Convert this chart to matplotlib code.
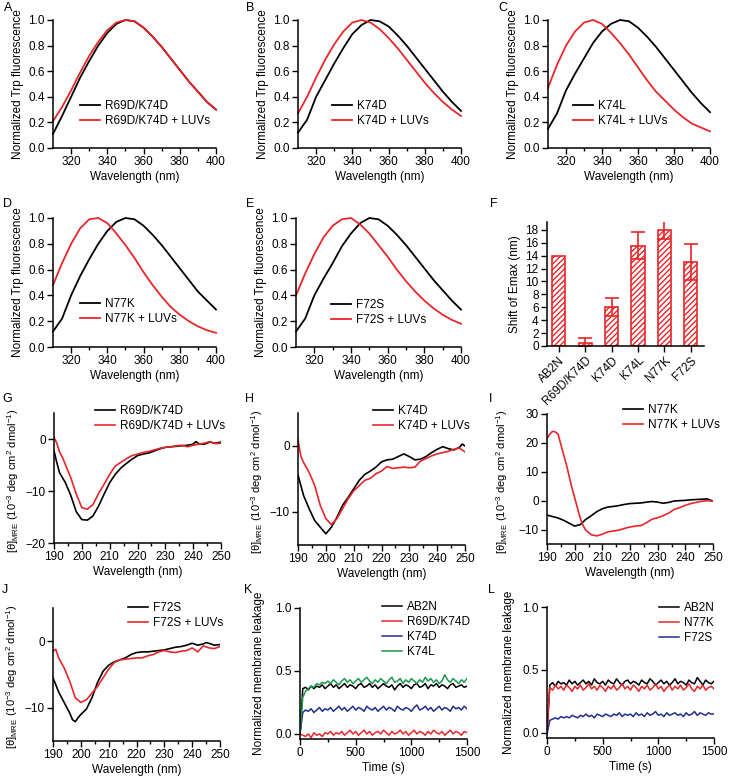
import matplotlib
matplotlib.use("Agg")
import matplotlib.pyplot as plt

plt.rcParams['font.family'] = ['Liberation Sans', 'DejaVu Sans']
plt.rcParams['mathtext.fontset'] = 'custom'
plt.rcParams['mathtext.rm'] = 'Liberation Sans'
plt.rcParams['mathtext.it'] = 'Liberation Sans:italic'
plt.rcParams['hatch.linewidth'] = 1.0

RED = '#e8262a'
BLUE = '#232c8f'
GREEN = '#1c9a4c'

# ---- Trp fluorescence spectra (A-E) ----
wl_fl = [310, 315, 320, 325, 330, 335, 340, 345, 350, 355, 360, 365, 370, 375, 380, 385, 390, 395, 400]

a_free = [0.11, 0.25, 0.40, 0.55, 0.68, 0.80, 0.90, 0.97, 1.00, 0.99, 0.94, 0.87, 0.79, 0.70, 0.61, 0.52, 0.44, 0.36, 0.30]
a_luv = [0.21, 0.32, 0.45, 0.59, 0.72, 0.83, 0.92, 0.98, 1.00, 0.99, 0.94, 0.87, 0.79, 0.70, 0.61, 0.52, 0.44, 0.36, 0.30]

b_free = [0.12, 0.22, 0.40, 0.53, 0.66, 0.78, 0.89, 0.96, 1.00, 0.99, 0.95, 0.88, 0.80, 0.71, 0.62, 0.53, 0.44, 0.36, 0.29]
b_luv = [0.27, 0.40, 0.55, 0.69, 0.81, 0.91, 0.98, 1.00, 0.98, 0.93, 0.86, 0.78, 0.69, 0.60, 0.51, 0.43, 0.36, 0.30, 0.25]

c_free = [0.15, 0.27, 0.45, 0.58, 0.70, 0.82, 0.91, 0.97, 1.00, 0.99, 0.94, 0.87, 0.79, 0.70, 0.61, 0.52, 0.43, 0.35, 0.28]
c_luv = [0.47, 0.65, 0.80, 0.91, 0.98, 1.00, 0.97, 0.90, 0.82, 0.73, 0.63, 0.53, 0.44, 0.37, 0.30, 0.24, 0.19, 0.16, 0.13]

d_free = [0.12, 0.22, 0.40, 0.55, 0.68, 0.80, 0.90, 0.97, 1.00, 0.99, 0.94, 0.87, 0.79, 0.70, 0.61, 0.52, 0.43, 0.36, 0.29]
d_luv = [0.48, 0.65, 0.80, 0.92, 0.99, 1.00, 0.96, 0.88, 0.79, 0.69, 0.58, 0.48, 0.39, 0.31, 0.25, 0.20, 0.16, 0.13, 0.11]

e_free = [0.12, 0.22, 0.40, 0.53, 0.65, 0.78, 0.88, 0.96, 1.00, 0.99, 0.94, 0.87, 0.79, 0.70, 0.61, 0.52, 0.44, 0.36, 0.29]
e_luv = [0.40, 0.57, 0.72, 0.85, 0.94, 0.99, 1.00, 0.95, 0.88, 0.79, 0.70, 0.60, 0.51, 0.43, 0.36, 0.30, 0.25, 0.21, 0.18]

# ---- Emax shift (F) ----
mutants = ['AB2N', 'R69D/K74D', 'K74D', 'K74L', 'N77K', 'F72S']
shift = [14.0, 0.5, 6.0, 15.5, 18.0, 13.0]
shift_err = [0.0, 0.7, 1.4, 2.1, 1.4, 2.8]

# ---- CD spectra (G-J) ----
g_wl_k = [190, 191, 192, 194, 196, 198, 200, 202, 204, 206, 208, 210, 212, 214, 216, 218, 220, 222, 224, 226, 228, 230, 232, 234, 236, 238, 240, 241, 242, 244, 246, 248, 250]
g_k = [-2.3, -4.5, -6.5, -8.3, -10.8, -14.0, -15.5, -15.6, -14.8, -12.9, -10.6, -8.4, -6.8, -5.6, -4.7, -3.9, -3.2, -2.9, -2.7, -2.3, -1.9, -1.6, -1.5, -1.4, -1.3, -1.2, -1.0, -0.5, -0.9, -1.0, -0.6, -0.8, -0.6]
g_wl_r = [190, 191, 192, 193, 194, 196, 198, 200, 202, 204, 206, 208, 210, 212, 214, 216, 218, 220, 222, 224, 226, 228, 230, 232, 234, 236, 238, 240, 242, 244, 246, 248, 250]
g_r = [0.3, -0.8, -2.5, -3.5, -4.8, -7.4, -10.6, -13.2, -13.5, -12.6, -10.5, -8.7, -6.8, -5.2, -4.5, -3.8, -3.2, -2.9, -2.6, -2.4, -2.1, -1.8, -1.6, -1.5, -1.3, -1.2, -1.5, -1.2, -1.0, -0.8, -0.5, -0.9, -0.8]

h_wl_k = [190, 192, 194, 196, 198, 200, 202, 204, 206, 208, 210, 212, 214, 216, 218, 220, 222, 224, 226, 228, 230, 232, 234, 236, 238, 240, 242, 244, 246, 248, 249, 250]
h_k = [-4.4, -7.5, -9.5, -11.3, -12.3, -13.3, -12.3, -10.8, -9.0, -7.8, -6.5, -5.2, -4.3, -3.8, -3.2, -2.4, -2.1, -2.0, -1.6, -1.2, -1.6, -2.1, -2.0, -1.6, -1.0, -0.5, -0.1, -0.4, -0.6, -0.2, 0.3, 0.0]
h_wl_r = [190, 191, 192, 194, 196, 198, 200, 202, 204, 206, 208, 210, 212, 214, 216, 218, 220, 222, 224, 226, 228, 230, 232, 234, 236, 238, 240, 242, 244, 246, 248, 250]
h_r = [1.0, -1.5, -2.5, -4.0, -6.0, -9.0, -11.0, -11.9, -11.0, -9.5, -8.0, -6.8, -6.0, -5.2, -4.9, -4.2, -3.8, -3.1, -3.4, -3.3, -3.2, -3.3, -3.2, -2.3, -1.9, -1.5, -1.2, -1.0, -0.8, -0.5, -0.3, -0.9]

i_wl_k = [190, 192, 194, 196, 198, 200, 202, 204, 206, 208, 210, 212, 214, 216, 218, 220, 222, 224, 226, 228, 230, 232, 234, 236, 238, 240, 242, 244, 246, 248, 250]
i_k = [-5.0, -5.5, -6.0, -6.8, -7.8, -8.8, -8.3, -6.5, -5.2, -3.8, -2.8, -2.2, -2.0, -1.7, -1.3, -1.0, -0.9, -0.8, -0.5, -0.3, -0.5, -0.9, -0.6, -0.1, 0.0, 0.1, 0.3, 0.4, 0.5, 0.6, -0.2]
i_wl_r = [190, 191, 192, 193, 194, 195, 196, 197, 198, 199, 200, 201, 202, 203, 204, 206, 208, 210, 212, 214, 216, 218, 220, 222, 224, 226, 228, 230, 232, 234, 236, 238, 240, 242, 244, 246, 248, 250]
i_r = [21.5, 23.0, 24.0, 23.8, 23.0, 19.5, 16.0, 12.5, 8.5, 4.5, 1.0, -2.5, -6.0, -8.5, -10.2, -11.8, -12.2, -11.6, -10.8, -10.5, -10.2, -9.6, -9.1, -8.8, -8.6, -7.6, -6.4, -5.9, -5.2, -4.3, -3.0, -2.4, -1.6, -1.0, -0.6, -0.2, 0.0, -0.2]

j_wl_k = [190, 192, 194, 196, 197, 198, 199, 200, 202, 204, 206, 208, 210, 212, 214, 216, 218, 220, 222, 224, 226, 228, 230, 232, 234, 236, 238, 240, 242, 244, 245, 246, 248, 250]
j_k = [-5.5, -7.6, -9.2, -10.8, -11.8, -12.1, -11.5, -11.0, -10.2, -8.5, -6.2, -4.5, -3.6, -3.1, -2.8, -2.5, -2.0, -1.7, -1.6, -1.6, -1.5, -1.4, -1.3, -1.1, -0.9, -0.8, -0.6, -0.3, -0.6, -0.4, -0.2, -0.3, -0.6, -0.5]
j_wl_r = [190, 191, 192, 194, 196, 198, 200, 202, 204, 206, 208, 210, 212, 214, 216, 218, 220, 222, 224, 226, 228, 230, 232, 234, 236, 238, 240, 242, 244, 246, 248, 250]
j_r = [-1.5, -1.2, -2.5, -4.0, -6.0, -8.5, -9.2, -8.8, -7.8, -6.8, -5.5, -4.2, -3.2, -2.8, -2.7, -2.6, -2.5, -2.5, -2.2, -2.0, -1.6, -1.4, -1.6, -1.7, -1.5, -1.4, -1.0, -1.6, -0.7, -1.0, -1.1, -0.8]

# ---- membrane leakage (K, L), read every 25 s ----
time_s = list(range(0, 1501, 25))

k_ab2n = [0.00, 0.36, 0.37, 0.35, 0.38, 0.36, 0.38, 0.37, 0.39, 0.36,
          0.38, 0.40, 0.37, 0.39, 0.36, 0.38, 0.40, 0.37, 0.39, 0.38,
          0.36, 0.39, 0.40, 0.37, 0.38, 0.40, 0.37, 0.39, 0.36, 0.38,
          0.40, 0.38, 0.37, 0.39, 0.35, 0.38, 0.40, 0.37, 0.39, 0.38,
          0.36, 0.39, 0.40, 0.37, 0.38, 0.40, 0.36, 0.39, 0.38, 0.40,
          0.37, 0.39, 0.38, 0.36, 0.39, 0.40, 0.37, 0.38, 0.39, 0.37,
          0.38]
k_r69d = [0.00, -0.01, -0.02, 0.00, -0.03, 0.01, -0.01, 0.00, -0.02, 0.01,
          0.00, 0.02, -0.01, 0.01, 0.00, 0.02, -0.01, 0.01, 0.03, 0.00,
          0.02, -0.01, 0.01, 0.03, 0.00, 0.02, -0.01, 0.01, 0.02, 0.00,
          0.03, 0.01, -0.01, 0.02, 0.00, 0.01, 0.03, 0.00, 0.02, -0.01,
          0.01, 0.03, 0.00, 0.02, 0.01, -0.01, 0.02, 0.00, 0.03, 0.01,
          0.00, 0.02, -0.01, 0.01, 0.03, 0.00, 0.02, 0.01, -0.01, 0.02,
          0.01]
k_k74d = [0.00, 0.17, 0.19, 0.18, 0.20, 0.17, 0.19, 0.21, 0.18, 0.20,
          0.19, 0.21, 0.18, 0.20, 0.22, 0.19, 0.21, 0.18, 0.20, 0.22,
          0.19, 0.21, 0.20, 0.18, 0.22, 0.20, 0.19, 0.21, 0.18, 0.20,
          0.22, 0.19, 0.21, 0.20, 0.18, 0.22, 0.20, 0.19, 0.21, 0.20,
          0.18, 0.21, 0.23, 0.19, 0.20, 0.22, 0.19, 0.21, 0.18, 0.20,
          0.22, 0.19, 0.21, 0.20, 0.18, 0.22, 0.20, 0.21, 0.19, 0.22,
          0.20]
k_k74l = [0.00, 0.29, 0.34, 0.36, 0.38, 0.37, 0.40, 0.39, 0.41, 0.40,
          0.42, 0.40, 0.43, 0.41, 0.39, 0.42, 0.44, 0.41, 0.43, 0.40,
          0.42, 0.44, 0.41, 0.43, 0.45, 0.42, 0.40, 0.43, 0.41, 0.44,
          0.42, 0.40, 0.43, 0.45, 0.41, 0.42, 0.44, 0.40, 0.43, 0.41,
          0.44, 0.42, 0.40, 0.43, 0.41, 0.45, 0.42, 0.44, 0.41, 0.43,
          0.40, 0.42, 0.47, 0.43, 0.41, 0.44, 0.42, 0.40, 0.43, 0.41,
          0.44]

l_ab2n = [0.00, 0.38, 0.40, 0.37, 0.41, 0.39, 0.40, 0.38, 0.42, 0.39,
          0.41, 0.38, 0.40, 0.42, 0.39, 0.41, 0.38, 0.43, 0.40, 0.39,
          0.41, 0.38, 0.42, 0.40, 0.39, 0.43, 0.40, 0.38, 0.41, 0.42,
          0.39, 0.41, 0.40, 0.38, 0.42, 0.40, 0.39, 0.43, 0.41, 0.38,
          0.40, 0.42, 0.39, 0.41, 0.38, 0.40, 0.43, 0.39, 0.41, 0.40,
          0.38, 0.42, 0.40, 0.39, 0.44, 0.41, 0.38, 0.42, 0.40, 0.39,
          0.41]
l_n77k = [0.00, 0.36, 0.34, 0.38, 0.35, 0.37, 0.34, 0.38, 0.36, 0.33,
          0.37, 0.35, 0.38, 0.34, 0.36, 0.39, 0.35, 0.37, 0.34, 0.38,
          0.36, 0.33, 0.37, 0.35, 0.38, 0.34, 0.36, 0.39, 0.35, 0.37,
          0.34, 0.38, 0.36, 0.33, 0.37, 0.35, 0.38, 0.34, 0.36, 0.39,
          0.35, 0.37, 0.33, 0.36, 0.38, 0.34, 0.37, 0.35, 0.38, 0.34,
          0.36, 0.39, 0.35, 0.33, 0.37, 0.35, 0.38, 0.34, 0.36, 0.37,
          0.35]
l_f72s = [-0.01, 0.10, 0.11, 0.12, 0.11, 0.13, 0.12, 0.13, 0.12, 0.14,
          0.13, 0.12, 0.14, 0.13, 0.15, 0.13, 0.14, 0.12, 0.15, 0.14,
          0.13, 0.15, 0.14, 0.13, 0.15, 0.14, 0.16, 0.13, 0.15, 0.14,
          0.15, 0.13, 0.16, 0.14, 0.15, 0.13, 0.16, 0.14, 0.15, 0.17,
          0.14, 0.15, 0.13, 0.16, 0.14, 0.15, 0.16, 0.14, 0.15, 0.13,
          0.16, 0.14, 0.15, 0.17, 0.14, 0.16, 0.15, 0.14, 0.16, 0.15,
          0.15]

W, H = 729, 776
FS = 8.5
fig = plt.figure(figsize=(W / 100, H / 100), dpi=100)


def place(l, r, t, b):
    ax = fig.add_axes([l / W, 1 - b / H, (r - l) / W, (b - t) / H])
    for s in ['top', 'right']:
        ax.spines[s].set_visible(False)
    for s in ['left', 'bottom']:
        ax.spines[s].set_linewidth(1.1)
    ax.tick_params(which='both', direction='out', width=1.0, labelsize=FS, pad=2)
    ax.tick_params(which='major', length=4)
    ax.tick_params(which='minor', length=2.5)
    return ax


def legend_at(ax, x, y):
    ax.legend(loc='upper left', bbox_to_anchor=(x / W, 1 - y / H),
              bbox_transform=fig.transFigure, frameon=False, borderpad=0,
              borderaxespad=0, handlelength=1.7, handletextpad=0.4,
              labelspacing=0.25, fontsize=FS)


def letter(x, y, s):
    fig.text(x / W, 1 - y / H, s, fontsize=9, ha='left', va='top')


def fluor(ax, free, luv, name):
    ax.plot(wl_fl, free, color='black', lw=1.3, label=name, clip_on=False)
    ax.plot(wl_fl, luv, color=RED, lw=1.3, label=name + ' + LUVs', clip_on=False)
    ax.set_xlim(310, 400)
    ax.set_ylim(0, 1.0)
    ax.set_xticks([320, 340, 360, 380, 400])
    ax.set_xticks([330, 350, 370, 390], minor=True)
    ax.set_yticks([0, 0.2, 0.4, 0.6, 0.8, 1.0])
    ax.set_yticklabels(['0.0', '0.2', '0.4', '0.6', '0.8', '1.0'])
    ax.set_xlabel('Wavelength (nm)', fontsize=FS, labelpad=2)
    ax.set_ylabel('Normalized Trp fluorescence', fontsize=FS, labelpad=3)


CD_LABEL = '[θ]$_{\\mathrm{MRE}}$ (10$^{-3}$ deg cm$^{2}$ dmol$^{-1}$)'


def cd(ax, wk, k, wr, r, name, ylim, yticks, labx):
    ax.plot(wk, k, color='black', lw=1.2, label=name)
    ax.plot(wr, r, color=RED, lw=1.2, label=name + ' + LUVs')
    ax.set_xlim(190, 250)
    ax.set_ylim(*ylim)
    ax.set_xticks(range(190, 251, 10))
    ax.set_xticks(range(195, 250, 10), minor=True)
    ax.set_yticks(yticks)
    ax.set_xlabel('Wavelength (nm)', fontsize=FS, labelpad=2)
    ax.set_ylabel(CD_LABEL, fontsize=8)
    ax.yaxis.set_label_coords(labx, 0.48)


def leak(ax, series, labx):
    for vals, col, name in series:
        ax.plot(time_s, vals, color=col, lw=1.1, label=name)
    ax.set_xlim(0, 1500)
    ax.set_ylim(-0.04, 1.0)
    ax.set_xticks([0, 500, 1000, 1500])
    ax.set_xticks([250, 750, 1250], minor=True)
    ax.set_yticks([0, 0.5, 1.0])
    ax.set_yticklabels(['0.0', '0.5', '1.0'])
    ax.set_xlabel('Time (s)', fontsize=FS, labelpad=2)
    ax.set_ylabel('Normalized membrane leakage', fontsize=FS)
    ax.yaxis.set_label_coords(labx, 0.5)


# row 1
axA = place(53, 216, 20, 148)
fluor(axA, a_free, a_luv, 'R69D/K74D')
legend_at(axA, 80, 100)
axB = place(298, 461, 20, 148)
fluor(axB, b_free, b_luv, 'K74D')
legend_at(axB, 332, 100)
axC = place(548, 710, 20, 148)
fluor(axC, c_free, c_luv, 'K74L')
legend_at(axC, 573, 100)

# row 2
axD = place(53, 216, 218, 347)
fluor(axD, d_free, d_luv, 'N77K')
legend_at(axD, 80, 298)
axE = place(296, 461, 218, 347)
fluor(axE, e_free, e_luv, 'F72S')
legend_at(axE, 331, 299)

axF = place(547, 704, 222, 346)
xpos = list(range(len(mutants)))
axF.bar(xpos, shift, width=0.5, color='white', edgecolor=RED, hatch='//////', linewidth=1.2)
axF.errorbar(xpos[1:], shift[1:], yerr=shift_err[1:], fmt='none', ecolor=RED,
             elinewidth=1.2, capsize=4.7, capthick=1.2)
axF.set_xlim(-0.45, 5.5)
axF.set_ylim(0, 19.2)
axF.set_yticks(range(0, 19, 2))
axF.set_xticks(xpos)
axF.set_xticklabels(mutants, rotation=45, ha='right', rotation_mode='anchor')
axF.set_ylabel('Shift of Emax (nm)', fontsize=FS, labelpad=3)

# row 3
axG = place(54, 221, 413, 543)
cd(axG, g_wl_k, g_k, g_wl_r, g_r, 'R69D/K74D', (-20, 5), [-20, -10, 0], -0.2)
legend_at(axG, 95, 405)
axH = place(298, 465, 413, 545)
cd(axH, h_wl_k, h_k, h_wl_r, h_r, 'K74D', (-15, 5), [-10, 0], -0.2)
legend_at(axH, 373, 405)
axI = place(547, 713, 414, 544)
cd(axI, i_wl_k, i_k, i_wl_r, i_r, 'N77K', (-15, 30), [-10, 0, 10, 20, 30], -0.22)
legend_at(axI, 623, 404)

# row 4
axJ = place(53, 220, 608, 741)
cd(axJ, j_wl_k, j_k, j_wl_r, j_r, 'F72S', (-15, 5), [-10, 0], -0.2)
legend_at(axJ, 128, 602)
axK = place(300, 467, 608, 739)
leak(axK, [(k_ab2n, 'black', 'AB2N'), (k_r69d, RED, 'R69D/K74D'),
           (k_k74d, BLUE, 'K74D'), (k_k74l, GREEN, 'K74L')], -0.21)
legend_at(axK, 382, 601)
axL = place(547, 714, 607, 738)
leak(axL, [(l_ab2n, 'black', 'AB2N'), (l_n77k, RED, 'N77K'), (l_f72s, BLUE, 'F72S')], -0.19)
legend_at(axL, 659, 602)

for x, y, s in [(4, 2, 'A'), (246, 2, 'B'), (498, 2, 'C'),
                (3, 198, 'D'), (246, 198, 'E'), (490, 198, 'F'),
                (2, 393, 'G'), (245, 393, 'H'), (489, 393, 'I'),
                (2, 584, 'J'), (244, 584, 'K'), (488, 584, 'L')]:
    letter(x, y, s)

fig.savefig('out.png', dpi=100)
